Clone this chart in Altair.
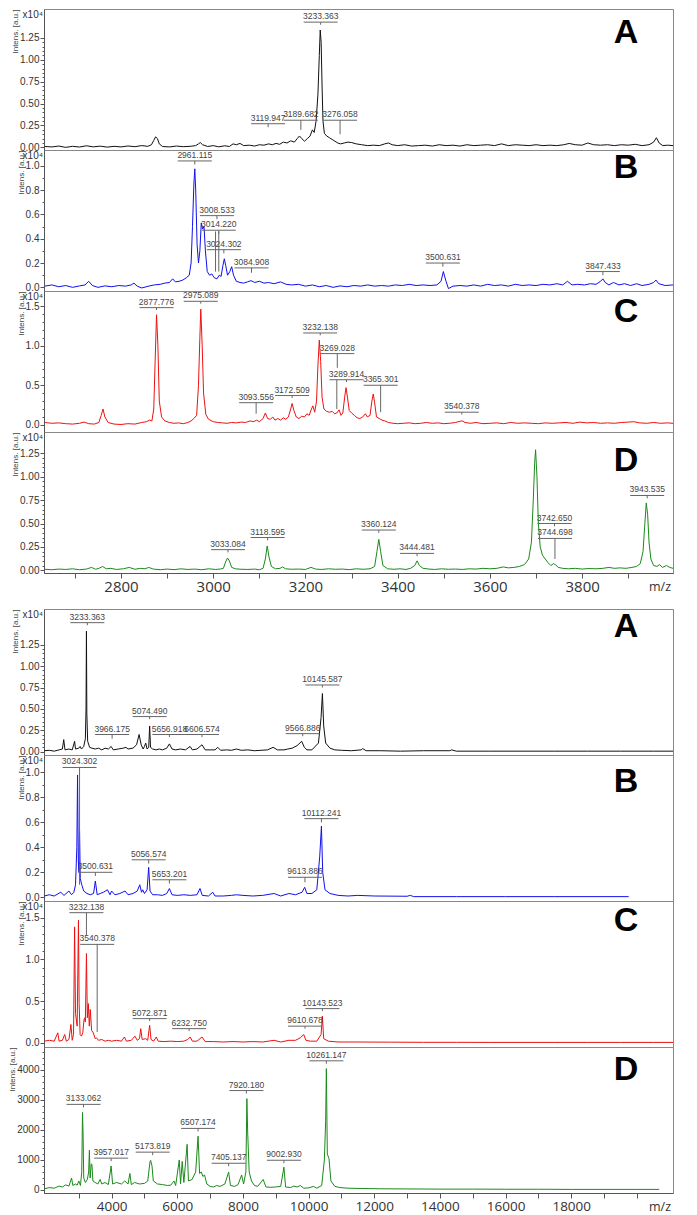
import altair as alt
import pandas as pd

# ---------------- x ranges (m/z) ----------------
X_TOP = [2633, 3997]
X_BOT = [1940, 21100]

# ---------------- spectra: (m/z, intensity) ----------------
SPEC_TOP_A = [(2635,0.01),(2650,0.005),(2665,0.015),(2680,0.0),(2695,0.012),(2710,0.004),(2725,0.018),(2740,0.006),(2755,0.014),(2770,0.003),(2785,0.012),(2800,0.005),(2815,0.016),(2830,0.008),(2845,0.02),(2858,0.012),(2866,0.03),(2871,0.08),(2875,0.12),(2879,0.1),(2883,0.04),(2890,0.01),(2905,0.005),(2920,0.015),(2935,0.008),(2950,0.012),(2962,0.02),(2968,0.04),(2972,0.055),(2977,0.03),(2988,0.01),(3000,0.02),(3012,0.006),(3025,0.018),(3035,0.01),(3043,0.04),(3050,0.03),(3058,0.045),(3066,0.02),(3078,0.025),(3090,0.015),(3100,0.03),(3110,0.025),(3120,0.04),(3128,0.03),(3136,0.045),(3144,0.035),(3152,0.06),(3160,0.05),(3168,0.075),(3176,0.06),(3182,0.1),(3187,0.13),(3192,0.1),(3198,0.07),(3204,0.1),(3210,0.13),(3215,0.2),(3219,0.17),(3223,0.3),(3227,0.6),(3230,1.05),(3232,1.34),(3234,1.2),(3236,0.7),(3238,0.3),(3241,0.16),(3246,0.13),(3252,0.11),(3258,0.09),(3264,0.07),(3270,0.05),(3276,0.04),(3284,0.05),(3292,0.06),(3300,0.055),(3310,0.04),(3322,0.03),(3335,0.02),(3348,0.025),(3360,0.02),(3372,0.04),(3380,0.05),(3388,0.03),(3400,0.02),(3415,0.03),(3430,0.015),(3445,0.02),(3460,0.025),(3475,0.015),(3490,0.03),(3505,0.02),(3520,0.025),(3535,0.015),(3550,0.03),(3565,0.02),(3580,0.025),(3595,0.03),(3610,0.02),(3625,0.04),(3640,0.02),(3655,0.03),(3670,0.025),(3685,0.02),(3700,0.03),(3715,0.02),(3730,0.025),(3745,0.02),(3760,0.03),(3772,0.045),(3785,0.03),(3800,0.025),(3812,0.05),(3825,0.03),(3840,0.025),(3855,0.03),(3870,0.02),(3885,0.03),(3900,0.025),(3915,0.035),(3930,0.02),(3945,0.03),(3955,0.06),(3961,0.11),(3967,0.05),(3975,0.02),(3985,0.025),(3997,0.02)]

SPEC_TOP_B = [(2635,0.01),(2650,0.02),(2665,0.005),(2680,0.015),(2695,0.0),(2710,0.012),(2722,0.02),(2730,0.05),(2738,0.015),(2750,0.0),(2765,0.012),(2780,0.005),(2795,0.015),(2810,0.01),(2822,0.02),(2828,0.035),(2835,0.01),(2845,-0.005),(2860,0.01),(2872,0.02),(2885,0.025),(2895,0.035),(2905,0.04),(2912,0.07),(2918,0.045),(2926,0.05),(2934,0.06),(2942,0.08),(2948,0.1),(2952,0.2),(2955,0.5),(2958,0.85),(2960,0.975),(2962,0.8),(2965,0.35),(2968,0.2),(2971,0.3),(2974,0.53),(2977,0.48),(2980,0.5),(2983,0.3),(2987,0.13),(2992,0.1),(2997,0.11),(3002,0.08),(3008,0.07),(3013,0.1),(3017,0.09),(3021,0.18),(3024,0.235),(3027,0.18),(3031,0.1),(3036,0.13),(3040,0.17),(3044,0.1),(3050,0.05),(3058,0.04),(3066,0.035),(3074,0.045),(3082,0.055),(3090,0.04),(3100,0.05),(3110,0.035),(3120,0.04),(3132,0.03),(3146,0.045),(3158,0.025),(3170,0.02),(3185,0.025),(3200,0.01),(3215,0.02),(3230,0.005),(3245,0.015),(3260,0.0),(3275,0.012),(3290,0.005),(3305,0.015),(3320,0.01),(3335,0.02),(3350,0.01),(3365,0.015),(3380,0.01),(3395,0.02),(3410,0.015),(3425,0.025),(3440,0.015),(3455,0.02),(3470,0.015),(3485,0.02),(3494,0.05),(3499,0.13),(3504,0.06),(3510,-0.01),(3520,0.01),(3535,0.015),(3550,0.01),(3565,0.02),(3580,0.01),(3595,0.025),(3610,0.015),(3625,0.02),(3640,0.01),(3655,0.025),(3670,0.015),(3685,0.02),(3700,0.015),(3715,0.025),(3730,0.02),(3745,0.03),(3758,0.02),(3768,0.05),(3778,0.02),(3790,0.025),(3805,0.02),(3818,0.03),(3830,0.025),(3840,0.05),(3845,0.07),(3850,0.04),(3858,0.02),(3868,0.04),(3880,0.02),(3892,0.03),(3905,0.015),(3918,0.03),(3930,0.015),(3945,0.025),(3955,0.04),(3960,0.06),(3966,0.03),(3980,0.015),(3997,0.02)]

SPEC_TOP_C = [(2635,0.03),(2650,0.02),(2665,0.025),(2680,0.015),(2695,0.01),(2710,0.02),(2720,0.035),(2730,0.015),(2742,0.01),(2752,0.03),(2757,0.12),(2761,0.2),(2765,0.1),(2772,0.03),(2785,0.01),(2800,0.005),(2815,0.015),(2830,0.01),(2845,0.03),(2855,0.04),(2862,0.06),(2867,0.05),(2871,0.2),(2874,0.8),(2877,1.39),(2880,1.0),(2883,0.3),(2888,0.1),(2895,0.05),(2905,0.03),(2915,0.02),(2925,0.025),(2935,0.015),(2945,0.03),(2952,0.05),(2958,0.08),(2964,0.12),(2968,0.5),(2971,1.1),(2973,1.46),(2976,1.0),(2979,0.4),(2984,0.13),(2990,0.07),(3000,0.04),(3010,0.03),(3020,0.025),(3030,0.02),(3040,0.03),(3050,0.025),(3060,0.035),(3070,0.03),(3080,0.05),(3088,0.04),(3094,0.06),(3100,0.04),(3108,0.08),(3113,0.15),(3118,0.08),(3124,0.07),(3129,0.1),(3134,0.06),(3140,0.08),(3146,0.06),(3152,0.09),(3157,0.07),(3163,0.1),(3168,0.2),(3171,0.27),(3175,0.18),(3180,0.1),(3186,0.08),(3192,0.11),(3198,0.1),(3203,0.14),(3208,0.12),(3213,0.2),(3216,0.24),(3220,0.16),(3224,0.3),(3227,0.75),(3230,1.07),(3233,0.8),(3236,0.35),(3240,0.2),(3246,0.17),(3252,0.16),(3258,0.17),(3263,0.14),(3268,0.15),(3273,0.19),(3277,0.12),(3281,0.15),(3285,0.35),(3288,0.47),(3291,0.35),(3295,0.18),(3300,0.15),(3306,0.12),(3312,0.09),(3318,0.08),(3324,0.1),(3330,0.14),(3334,0.1),(3340,0.12),(3344,0.3),(3347,0.39),(3350,0.28),(3354,0.1),(3360,0.08),(3366,0.06),(3372,0.05),(3380,0.03),(3390,0.02),(3400,0.015),(3412,0.02),(3425,0.025),(3438,0.015),(3450,0.02),(3462,0.03),(3475,0.02),(3488,0.025),(3500,0.015),(3512,0.02),(3525,0.03),(3535,0.045),(3540,0.05),(3546,0.03),(3558,0.02),(3570,0.03),(3585,0.015),(3600,0.02),(3615,0.025),(3630,0.015),(3645,0.03),(3660,0.02),(3675,0.025),(3690,0.02),(3705,0.015),(3720,0.025),(3735,0.02),(3750,0.025),(3765,0.03),(3780,0.02),(3795,0.035),(3810,0.025),(3825,0.03),(3840,0.02),(3855,0.025),(3870,0.02),(3885,0.03),(3900,0.035),(3912,0.04),(3925,0.025),(3940,0.02),(3955,0.03),(3970,0.02),(3985,0.025),(3997,0.02)]

SPEC_TOP_D = [(2635,0.01),(2650,0.005),(2665,0.012),(2680,0.008),(2695,0.015),(2710,0.005),(2725,0.012),(2736,0.03),(2745,0.01),(2752,0.02),(2760,0.04),(2768,0.015),(2778,0.02),(2790,0.008),(2805,0.015),(2818,0.03),(2830,0.01),(2842,0.02),(2852,0.015),(2860,0.03),(2870,0.012),(2885,0.005),(2900,0.012),(2915,0.006),(2930,0.015),(2945,0.008),(2960,0.012),(2975,0.005),(2990,0.015),(3005,0.008),(3015,0.012),(3022,0.02),(3027,0.09),(3031,0.13),(3035,0.1),(3040,0.03),(3048,0.015),(3060,0.01),(3075,0.008),(3090,0.012),(3100,0.005),(3108,0.02),(3113,0.12),(3117,0.26),(3121,0.14),(3126,0.04),(3135,0.015),(3145,0.02),(3150,0.035),(3157,0.015),(3170,0.01),(3185,0.012),(3200,0.008),(3212,0.03),(3222,0.012),(3235,0.008),(3250,0.015),(3265,0.01),(3280,0.012),(3295,0.006),(3310,0.015),(3325,0.01),(3340,0.015),(3350,0.04),(3355,0.2),(3359,0.33),(3363,0.2),(3368,0.05),(3378,0.015),(3392,0.01),(3405,0.015),(3418,0.008),(3428,0.02),(3437,0.05),(3442,0.1),(3447,0.05),(3455,0.02),(3468,0.012),(3480,0.008),(3495,0.015),(3510,0.01),(3525,0.012),(3540,0.008),(3555,0.015),(3570,0.012),(3585,0.02),(3600,0.015),(3615,0.02),(3629,0.035),(3640,0.025),(3652,0.03),(3664,0.04),(3675,0.06),(3684,0.12),(3690,0.3),(3694,0.75),(3697,1.15),(3699,1.29),(3702,1.0),(3705,0.5),(3709,0.25),(3714,0.16),(3720,0.12),(3726,0.08),(3732,0.05),(3738,0.07),(3742,0.06),(3748,0.03),(3758,0.02),(3770,0.015),(3785,0.02),(3800,0.012),(3815,0.018),(3830,0.015),(3845,0.02),(3858,0.03),(3870,0.02),(3882,0.025),(3895,0.02),(3908,0.03),(3918,0.04),(3926,0.07),(3932,0.2),(3936,0.5),(3939,0.72),(3942,0.6),(3945,0.3),(3949,0.12),(3955,0.05),(3962,0.04),(3968,0.06),(3974,0.03),(3983,0.05),(3990,0.03),(3997,0.02)]

SPEC_BOT_A = [(1950,0.01),(2100,0.015),(2250,0.005),(2400,0.02),(2500,0.03),(2541,0.14),(2580,0.02),(2700,0.03),(2800,0.02),(2872,0.12),(2900,0.03),(3000,0.04),(3040,0.06),(3080,0.03),(3150,0.06),(3200,0.15),(3220,0.5),(3233,1.41),(3245,0.45),(3270,0.12),(3330,0.05),(3400,0.04),(3500,0.03),(3600,0.04),(3700,0.02),(3800,0.04),(3900,0.03),(3985,0.06),(4050,0.02),(4200,0.03),(4350,0.04),(4436,0.05),(4500,0.03),(4650,0.04),(4760,0.08),(4837,0.2),(4900,0.08),(4960,0.03),(5000,0.06),(5038,0.1),(5080,0.03),(5130,0.05),(5158,0.3),(5185,0.05),(5250,0.03),(5350,0.02),(5450,0.03),(5550,0.02),(5680,0.04),(5760,0.09),(5840,0.03),(5950,0.02),(6100,0.03),(6250,0.02),(6391,0.06),(6460,0.02),(6600,0.03),(6752,0.08),(6850,0.02),(7000,0.02),(7150,0.02),(7233,0.05),(7320,0.015),(7500,0.02),(7650,0.015),(7800,0.03),(7950,0.015),(8150,0.02),(8350,0.01),(8550,0.015),(8750,0.02),(8917,0.05),(9050,0.02),(9250,0.02),(9368,0.03),(9500,0.04),(9650,0.07),(9789,0.12),(9870,0.05),(9950,0.02),(10100,0.02),(10300,0.1),(10380,0.4),(10421,0.68),(10460,0.3),(10520,0.1),(10650,0.04),(10800,0.02),(11000,0.015),(11300,0.01),(11600,0.02),(11650,0.035),(11750,0.01),(12200,0.01),(12800,0.005),(13500,0.01),(14300,0.01),(14360,0.02),(14500,0.005),(15500,0.005),(16500,0.005),(17500,0.005),(18500,0.005),(19500,0.005),(20500,0.005),(21100,0.005)]

SPEC_BOT_B = [(1950,0.01),(2100,0.02),(2250,0.01),(2450,0.04),(2550,0.015),(2700,0.05),(2780,0.02),(2850,0.04),(2900,0.1),(2940,0.4),(2962,0.98),(2985,0.3),(3005,0.2),(3023,0.53),(3045,0.15),(3090,0.1),(3150,0.05),(3250,0.03),(3350,0.02),(3450,0.03),(3504,0.13),(3560,0.02),(3650,0.03),(3750,0.04),(3872,0.06),(3950,0.02),(4000,0.05),(4100,0.02),(4250,0.03),(4410,0.05),(4500,0.02),(4650,0.03),(4780,0.05),(4857,0.1),(4910,0.04),(4947,0.06),(5000,0.03),(5080,0.06),(5128,0.24),(5170,0.05),(5250,0.02),(5400,0.02),(5550,0.015),(5680,0.03),(5760,0.07),(5840,0.02),(6000,0.015),(6200,0.02),(6400,0.015),(6600,0.02),(6692,0.07),(6760,0.015),(6950,0.01),(7083,0.04),(7150,0.01),(7400,0.01),(7650,0.015),(7800,0.02),(8000,0.015),(8300,0.01),(8600,0.015),(8950,0.03),(9150,0.01),(9400,0.03),(9600,0.02),(9800,0.04),(9880,0.08),(9950,0.03),(10100,0.03),(10250,0.06),(10340,0.33),(10391,0.57),(10430,0.2),(10500,0.06),(10650,0.03),(10900,0.015),(11200,0.01),(11500,0.015),(12000,0.01),(13000,0.008),(13100,0.015),(13200,0.005),(14500,0.005),(16000,0.005),(17500,0.005),(19000,0.005),(19750,0.005)]

SPEC_BOT_C = [(1950,0.02),(2100,0.03),(2250,0.02),(2360,0.12),(2400,0.02),(2500,0.03),(2570,0.1),(2620,0.02),(2700,0.04),(2760,0.22),(2800,0.03),(2840,0.1),(2872,1.39),(2900,0.35),(2950,0.2),(2990,1.47),(3010,0.47),(3040,0.1),(3080,0.08),(3120,0.12),(3160,0.28),(3180,0.3),(3200,0.25),(3233,1.07),(3260,0.3),(3290,0.47),(3320,0.2),(3350,0.4),(3390,0.15),(3440,0.12),(3500,0.05),(3540,0.06),(3600,0.03),(3700,0.04),(3800,0.02),(3900,0.03),(4000,0.02),(4150,0.03),(4300,0.02),(4390,0.07),(4450,0.02),(4600,0.03),(4710,0.08),(4780,0.03),(4850,0.05),(4887,0.17),(4930,0.04),(5040,0.05),(5100,0.03),(5158,0.21),(5200,0.04),(5280,0.02),(5360,0.07),(5420,0.02),(5600,0.015),(5800,0.02),(6000,0.015),(6200,0.02),(6320,0.04),(6391,0.07),(6460,0.02),(6600,0.02),(6752,0.07),(6850,0.015),(7100,0.015),(7400,0.01),(7700,0.015),(8000,0.01),(8300,0.015),(8600,0.01),(8950,0.03),(9150,0.01),(9400,0.03),(9600,0.03),(9750,0.06),(9850,0.1),(9920,0.03),(10050,0.02),(10250,0.02),(10380,0.1),(10421,0.32),(10460,0.05),(10600,0.02),(10900,0.01),(11500,0.01),(12500,0.008),(13500,0.006),(14500,0.006),(15500,0.005),(16500,0.005),(17500,0.005),(18500,0.005),(19500,0.005),(20500,0.005),(21100,0.005)]

SPEC_BOT_D = [(1950,40),(2100,80),(2250,60),(2400,130),(2500,100),(2600,170),(2700,130),(2780,400),(2820,150),(2900,200),(2950,160),(3000,300),(3050,150),(3090,600),(3113,2580),(3130,1900),(3150,400),(3200,250),(3260,350),(3300,600),(3323,1320),(3345,400),(3380,870),(3400,850),(3430,300),(3500,250),(3580,200),(3650,350),(3700,200),(3800,250),(3900,180),(3985,800),(4030,200),(4150,250),(4300,200),(4400,300),(4500,200),(4556,550),(4600,180),(4700,250),(4850,200),(5000,220),(5100,300),(5170,950),(5188,990),(5230,800),(5270,300),(5400,200),(5550,180),(5700,150),(5800,160),(5900,300),(5950,150),(6060,1000),(6100,200),(6150,950),(6200,250),(6300,1520),(6340,300),(6450,350),(6560,600),(6632,1790),(6680,550),(6730,600),(6780,450),(6830,500),(6900,200),(7000,120),(7100,100),(7200,150),(7300,120),(7450,200),(7564,600),(7620,150),(7750,120),(7850,180),(7960,500),(8020,200),(8090,600),(8120,3040),(8145,1900),(8190,600),(8260,300),(8350,150),(8450,120),(8617,350),(8700,100),(8850,90),(9000,100),(9150,120),(9248,760),(9300,100),(9450,80),(9550,130),(9650,100),(9750,150),(9850,60),(10000,70),(10150,120),(10250,60),(10400,150),(10480,1000),(10520,2300),(10541,4040),(10570,1200),(10620,1050),(10680,300),(10800,120),(10950,80),(11200,60),(11600,50),(12200,40),(13000,35),(14000,30),(15000,30),(16000,25),(17000,25),(18000,20),(19000,20),(20000,20),(20680,20)]

# ---------------- peak annotations: (m/z, text, underline level, tick bottom) ----------------
LBL_TOP_A = [(3233,"3233.363",1.43,1.40),(3190,"3189.682",0.31,0.20),(3275,"3276.058",0.31,0.15),(3119,"3119.947",0.27,0.23)]
LBL_TOP_B = [(2960,"2961.115",1.04,1.01),(3008,"3008.533",0.59,0.56),(3012,"3014.220",0.47,0.44),(3023,"3024.302",0.31,0.28),(3083,"3084.908",0.16,0.12),(3498,"3500.631",0.20,0.17),(3845,"3847.433",0.13,0.10)]
LBL_TOP_C = [(2877,"2877.776",1.48,1.45),(2973,"2975.089",1.56,1.53),(3093,"3093.556",0.28,0.14),(3171,"3172.509",0.37,0.34),(3232,"3232.138",1.16,1.13),(3269,"3269.028",0.90,0.72),(3289,"3289.914",0.57,0.54),(3363,"3365.301",0.50,0.16),(3539,"3540.378",0.16,0.13)]
LBL_TOP_D = [(3032,"3033.084",0.22,0.19),(3118,"3118.595",0.35,0.32),(3359,"3360.124",0.43,0.40),(3442,"3444.481",0.18,0.15),(3740,"3742.650",0.50,0.47),(3741,"3744.698",0.34,0.12),(3941,"3943.535",0.80,0.77)]
LBL_BOT_A = [(3260,"3233.363",1.51,1.48),(4015,"3966.175",0.20,0.15),(5158,"5074.490",0.41,0.38),(5760,"5656.918",0.20,0.17),(6752,"6606.574",0.20,0.17),(9820,"9566.886",0.21,0.18),(10421,"10145.587",0.78,0.75)]
LBL_BOT_B = [(3023,"3024.302",1.04,0.10),(3504,"3500.631",0.20,0.17),(5128,"5056.574",0.30,0.27),(5760,"5653.201",0.14,0.11),(9890,"9613.886",0.16,0.12),(10391,"10112.241",0.63,0.60)]
LBL_BOT_C = [(3233,"3232.138",1.56,1.29),(3560,"3540.378",1.18,0.13),(5158,"5072.871",0.29,0.26),(6361,"6232.750",0.17,0.14),(9890,"9610.678",0.20,0.17),(10421,"10143.523",0.41,0.38)]
LBL_BOT_D = [(3143,"3133.062",2850,2750),(3985,"3957.017",1060,960),(5250,"5173.819",1260,1160),(6632,"6507.174",2050,1950),(7564,"7405.137",890,790),(8105,"7920.180",3310,3210),(9248,"9002.930",990,890),(10541,"10261.147",4300,4200)]

# extra leader lines: (m/z, top, bottom)
LEAD_TOP_B = [(3005,0.46,0.13),(3012,0.46,0.13)]
LEAD_TOP_C = [(3268,0.57,0.20)]

W = 629
H_TOP = 141
H_BOT = 146
FONT = "Liberation Sans"


def panel(spec, labels, leaders, color, xdom, ydom, minor, major, label_max, fmt,
          letter, letter_y, height, x10, xaxis):
    sdf = pd.DataFrame(spec, columns=["mz", "v"])
    ldf = pd.DataFrame(labels, columns=["mz", "txt", "v", "bot"])
    xsc = alt.Scale(domain=xdom, nice=False, zero=False)
    ysc = alt.Scale(domain=ydom, nice=False, zero=False)
    n = int(label_max / minor + 1e-6)
    vals = [round(k * minor, 4) for k in range(n + 1)]
    test = f"abs(datum.value/{major} - round(datum.value/{major})) < 0.001"
    yax = alt.Axis(values=vals, format=fmt, labelExpr=f"{test} ? datum.label : ''",
                   tickSize={"condition": {"test": test, "value": 4}, "value": 2},
                   title="Intens. [a.u.]", titleFontSize=8, titleFontWeight="normal",
                   titleAnchor="end", titleColor="#444", titlePadding=0,
                   labelFontSize=10, labelPadding=1, labelOverlap=False,
                   labelFlush=False, grid=False)
    if xaxis == "top":
        xax = alt.Axis(values=list(range(2700, 4000, 100)), format="d",
                       labelExpr="datum.value % 200 == 0 ? datum.label : ''",
                       title=None, tickSize=5, labelFontSize=15, labelFont="Open Sans",
                       labelPadding=1, labelOverlap=False, labelFlush=False, grid=False)
    elif xaxis == "bot":
        xax = alt.Axis(values=list(range(3000, 21000, 1000)), format="d",
                       labelExpr="(datum.value % 2000 == 0 && datum.value >= 4000 && datum.value <= 18000) ? datum.label : ''",
                       title=None, tickSize=5, labelFontSize=13.5, labelFont="Open Sans",
                       labelPadding=1, labelOverlap=False, labelFlush=False, grid=False)
    else:
        xax = None

    def X():
        return alt.X("mz:Q", scale=xsc, axis=xax)

    def Y():
        return alt.Y("v:Q", scale=ysc, axis=yax)

    layers = []
    layers.append(alt.Chart(sdf).mark_line(color=color, strokeWidth=1).encode(x=X(), y=Y()))
    layers.append(alt.Chart(ldf).mark_rule(color="#666", strokeWidth=1, xOffset=-17, x2Offset=17)
                  .encode(x=X(), x2="mz:Q", y=Y()))
    layers.append(alt.Chart(ldf).mark_rule(color="#666", strokeWidth=1)
                  .encode(x=X(), y=Y(), y2="bot:Q"))
    layers.append(alt.Chart(ldf).mark_text(fontSize=8.5, font=FONT, color="#444",
                                           baseline="bottom", dy=-1)
                  .encode(x=X(), y=Y(), text="txt:N"))
    if leaders:
        lead = pd.DataFrame(leaders, columns=["mz", "v", "bot"])
        layers.append(alt.Chart(lead).mark_rule(color="#666", strokeWidth=1)
                      .encode(x=X(), y=Y(), y2="bot:Q"))
    layers.append(alt.Chart(pd.DataFrame({"t": [letter]}))
                  .mark_text(fontSize=34, fontWeight="bold", font=FONT, color="black",
                             baseline="middle", align="center")
                  .encode(text="t:N", x=alt.value(W - 47), y=alt.value(letter_y)))
    if x10:
        layers.append(alt.Chart(pd.DataFrame({"t": ["x10⁴"]}))
                      .mark_text(fontSize=10, font=FONT, color="#333", align="right",
                                 baseline="middle")
                      .encode(text="t:N", x=alt.value(-1), y=alt.value(6)))
    if xaxis:
        layers.append(alt.Chart(pd.DataFrame({"t": ["m/z"]}))
                      .mark_text(fontSize=12.5, font="Open Sans", color="#333", align="right",
                                 baseline="middle")
                      .encode(text="t:N", x=alt.value(W - 2), y=alt.value(height + 14)))
    return alt.layer(*layers).properties(width=W, height=height)


top = alt.vconcat(
    panel(SPEC_TOP_A, LBL_TOP_A, None, "#111111", X_TOP, [-0.03, 1.58], 0.05, 0.25, 1.25, ".2f", "A", 24, H_TOP, True, None),
    panel(SPEC_TOP_B, LBL_TOP_B, LEAD_TOP_B, "#1010ee", X_TOP, [-0.03, 1.13], 0.1, 0.2, 1.0, ".1f", "B", 18, H_TOP, True, None),
    panel(SPEC_TOP_C, LBL_TOP_C, LEAD_TOP_C, "#ee1111", X_TOP, [-0.09, 1.69], 0.1, 0.5, 1.5, ".1f", "C", 21, H_TOP, True, None),
    panel(SPEC_TOP_D, LBL_TOP_D, None, "#1a8a1a", X_TOP, [-0.03, 1.48], 0.05, 0.25, 1.25, ".2f", "D", 29, H_TOP, True, "top"),
    spacing=0, bounds="flush",
).resolve_scale(x="independent", y="independent")

bot = alt.vconcat(
    panel(SPEC_BOT_A, LBL_BOT_A, None, "#111111", X_BOT, [-0.04, 1.67], 0.05, 0.25, 1.25, ".2f", "A", 18, H_BOT, True, None),
    panel(SPEC_BOT_B, LBL_BOT_B, None, "#1010ee", X_BOT, [-0.03, 1.14], 0.1, 0.2, 1.0, ".1f", "B", 27, H_BOT, True, None),
    panel(SPEC_BOT_C, LBL_BOT_C, None, "#ee1111", X_BOT, [-0.05, 1.70], 0.1, 0.5, 1.5, ".1f", "C", 20, H_BOT, True, None),
    panel(SPEC_BOT_D, LBL_BOT_D, None, "#1a8a1a", X_BOT, [-100, 4760], 200, 1000, 4600, "d", "D", 23, H_BOT, False, "bot"),
    spacing=0, bounds="flush",
).resolve_scale(x="independent", y="independent")

chart = alt.vconcat(top, bot, spacing=13).resolve_scale(
    x="independent", y="independent"
).properties(
    padding={"left": 0, "top": 0, "right": 0, "bottom": 0}
).configure_view(
    stroke="#888", strokeWidth=1
).configure_axis(
    domainColor="#555", tickColor="#555", labelColor="#333",
    labelFont=FONT, titleFont=FONT
)

chart.save("out.html", embed_options={"renderer": "svg", "actions": False})
